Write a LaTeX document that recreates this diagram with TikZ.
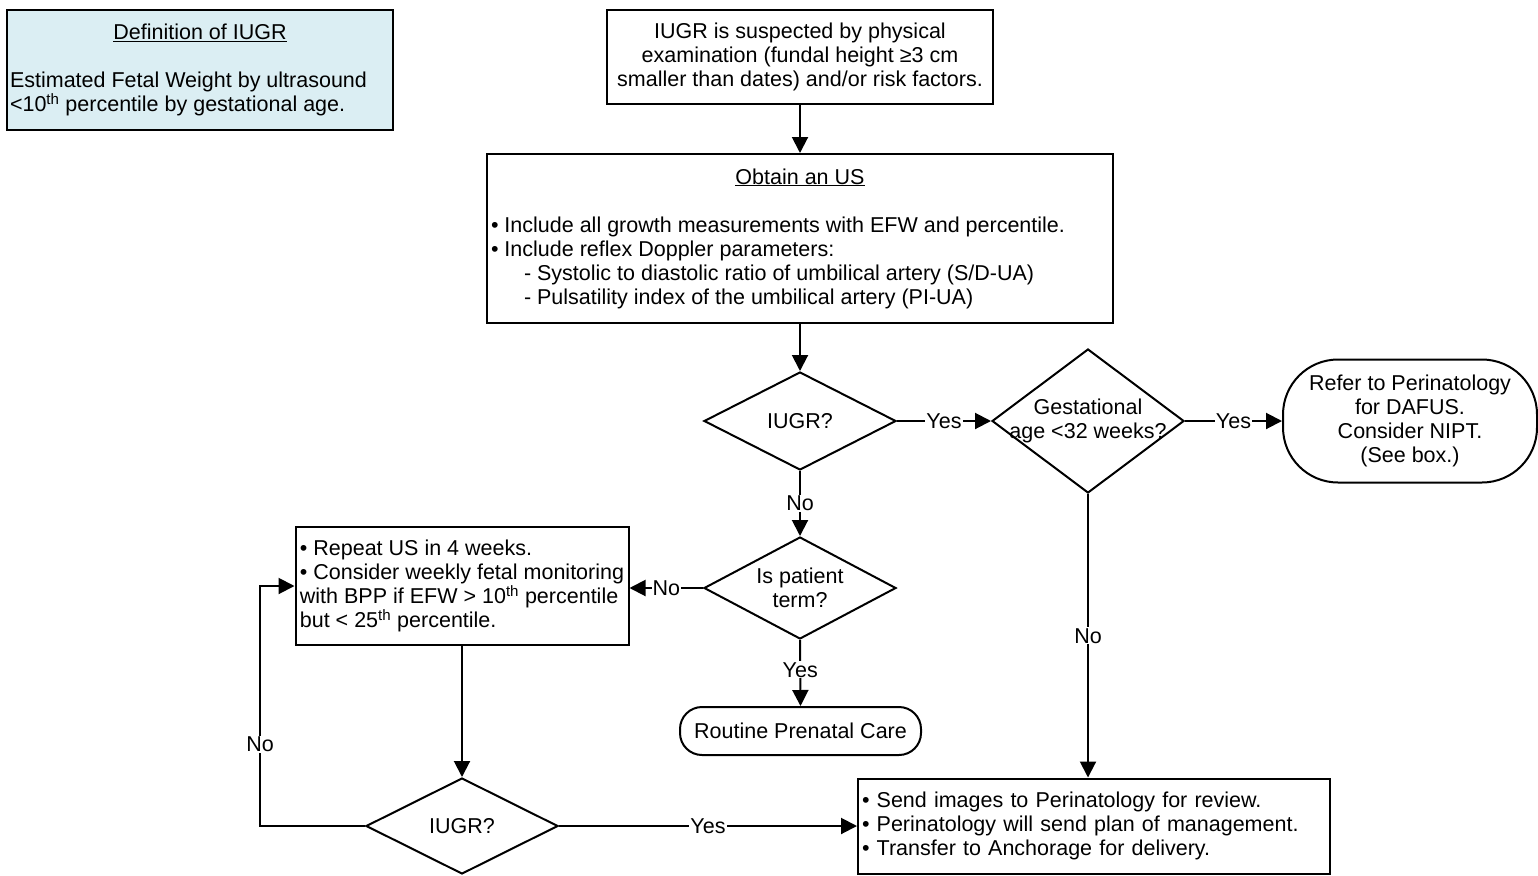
\documentclass[tikz,border=0pt]{standalone}
\usepackage{fontspec}
\setmainfont{Liberation Sans}
\usetikzlibrary{shapes.geometric,arrows.meta}
\definecolor{defblue}{RGB}{219,238,243}
\begin{document}
\begin{tikzpicture}[x=1pt,y=-1pt,
  every node/.style={font=\fontsize{21.5}{24}\selectfont},
  rect/.style={draw, line width=2pt, inner sep=0pt},
  rbox/.style={draw, line width=2pt, inner sep=0pt, align=center},
  dia/.style={draw, diamond, line width=2pt, inner sep=0pt, align=center},
  arr/.style={line width=2pt, -{Triangle[length=16pt,width=16pt]}},
  lbl/.style={fill=white, inner sep=1pt}
]
\useasboundingbox (0,0) rectangle (1538,875);

\node[rect, fill=defblue, minimum width=386pt, minimum height=120pt, align=left] (def) at (200,70)
  {\makebox[380pt]{\underline{Definition of IUGR}}\\[24pt]
   Estimated Fetal Weight by ultrasound\\
   <10\textsuperscript{th} percentile by gestational age.};

\node[rect, minimum width=386pt, minimum height=94pt, align=center] (top) at (800,57)
  {IUGR is suspected by physical\\ examination (fundal height ≥3 cm\\ smaller than dates) and/or risk factors.};

\node[rect, minimum width=626pt, minimum height=169pt, align=left] (us) at (800,238.5)
  {\makebox[618pt]{\underline{Obtain an US}}\\[24pt]
   • Include all growth measurements with EFW and percentile.\\
   • Include reflex Doppler parameters:\\
   \hspace*{33pt}- Systolic to diastolic ratio of umbilical artery (S/D-UA)\\
   \hspace*{33pt}- Pulsatility index of the umbilical artery (PI-UA)};

\node[dia, minimum width=192pt, minimum height=98pt] (d1) at (800,421) {IUGR?};
\node[dia, minimum width=192pt, minimum height=144pt] (d2) at (1088,421)
  {\makebox[0pt]{Gestational}\\ \makebox[0pt]{age <32 weeks?}};
\node[rbox, rounded corners=55pt, minimum width=254pt, minimum height=123pt] (refer) at (1410,421)
  {Refer to Perinatology\\ for DAFUS.\\ Consider NIPT.\\ (See box.)};

\node[dia, minimum width=192pt, minimum height=102pt] (d3) at (800,588)
  {\makebox[0pt]{Is patient}\\ \makebox[0pt]{term?}};
\node[rect, minimum width=333pt, minimum height=118pt, align=left] (rep) at (462,586)
  {• Repeat US in 4 weeks.\\
   • Consider weekly fetal monitoring\\
   with BPP if EFW > 10\textsuperscript{th} percentile\\
   but < 25\textsuperscript{th} percentile.};
\node[rbox, rounded corners=22pt, minimum width=241pt, minimum height=48pt] (routine) at (800.5,731) {Routine Prenatal Care};

\node[dia, minimum width=192pt, minimum height=96pt] (d4) at (462,826) {IUGR?};
\node[rect, minimum width=472pt, minimum height=95pt, align=left, inner xsep=4pt, text width=464pt] (send) at (1094,826)
  {• Send images to Perinatology for review.\\
   • Perinatology will send plan of management.\\
   • Transfer to Anchorage for delivery.};

\coordinate (c1) at (260,826);

\draw[arr] (top) -- (us);
\draw[arr] (us) -- (d1);
\draw[arr] (d1.east) -- node[lbl] {Yes} (d2.west);
\draw[arr] (d2.east) -- node[lbl] {Yes} (refer.west);
\draw[arr] (d1.south) -- node[lbl] {No} (d3.north);
\draw[arr] (d3.west) -- node[lbl] {No} (d3.west -| rep.east);
\draw[arr] (d3.south) -- node[lbl, pos=0.45] {Yes} (routine.north);
\draw[arr] (rep.south) -- (d4.north);
\draw[arr] (d4.east) -- node[lbl] {Yes} (d4.east -| send.west);
\draw[arr] (d4.west) -- (c1) |- node[lbl, pos=0.17] {No} (rep.west);
\draw[arr] (d2.south) -- node[lbl] {No} (d2.south |- send.north);
\end{tikzpicture}
\end{document}
